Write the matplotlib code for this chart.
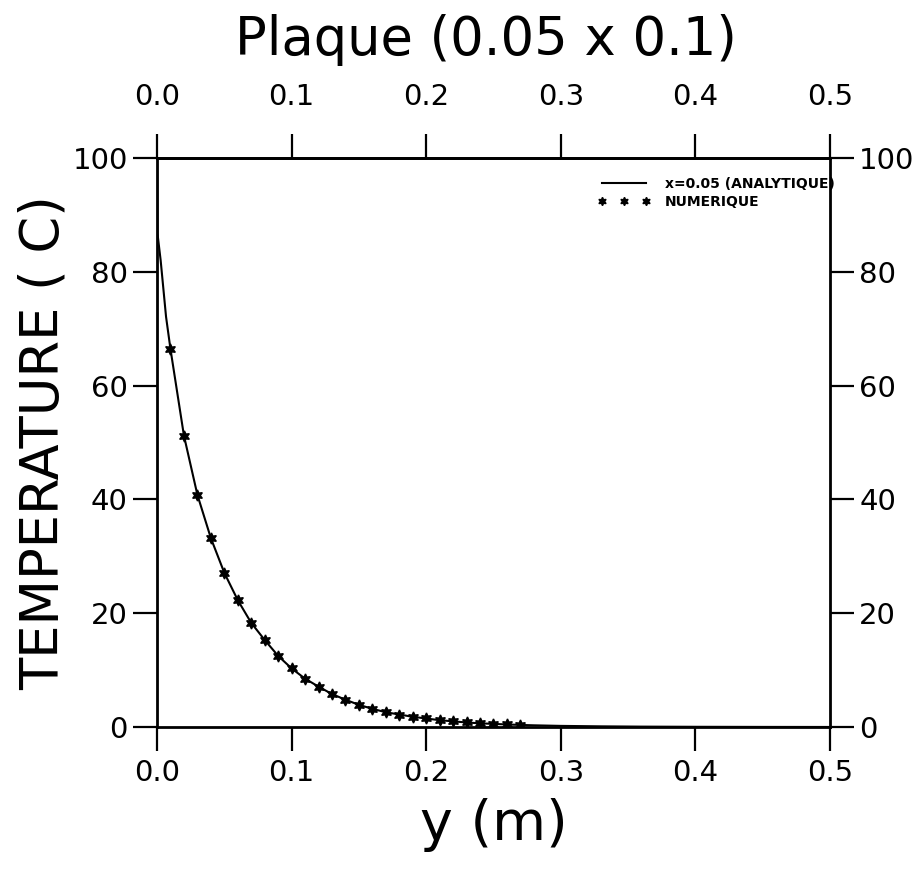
import matplotlib
matplotlib.use("Agg")
import matplotlib.pyplot as plt

# Analytic curve (x = 0.05)
y_line = [0.0, 0.0003, 0.0027, 0.0067, 0.01, 0.02, 0.03, 0.04, 0.05, 0.06, 0.07, 0.08,
          0.09, 0.10, 0.11, 0.12, 0.13, 0.14, 0.15, 0.16, 0.17, 0.18, 0.19, 0.20,
          0.21, 0.22, 0.23, 0.24, 0.25, 0.26, 0.27, 0.28, 0.30, 0.33, 0.36, 0.40,
          0.45, 0.50]
T_line = [100.0, 86.8, 82.0, 72.1, 66.4, 51.2, 40.8, 33.2, 27.1, 22.3, 18.3, 15.3,
          12.5, 10.3, 8.5, 7.1, 5.8, 4.8, 3.9, 3.2, 2.6, 2.2, 1.8, 1.5,
          1.2, 1.0, 0.8, 0.65, 0.55, 0.45, 0.37, 0.3, 0.2, 0.12, 0.07, 0.04,
          0.02, 0.01]

# Numerical solution
y_num = [0.01, 0.02, 0.03, 0.04, 0.05, 0.06, 0.07, 0.08, 0.09, 0.10, 0.11, 0.12,
         0.13, 0.14, 0.15, 0.16, 0.17, 0.18, 0.19, 0.20, 0.21, 0.22, 0.23, 0.24,
         0.25, 0.26, 0.27]
T_num = [66.4, 51.2, 40.8, 33.2, 27.1, 22.3, 18.3, 15.3, 12.5, 10.3, 8.5, 7.1,
         5.8, 4.8, 3.9, 3.2, 2.6, 2.2, 1.8, 1.5, 1.2, 1.0, 0.8, 0.65,
         0.55, 0.45, 0.37]

x_ticks = [0.0, 0.1, 0.2, 0.3, 0.4, 0.5]
x_ticklabels = ["0.0", "0.1", "0.2", "0.3", "0.4", "0.5"]
y_ticks = [0, 20, 40, 60, 80, 100]
y_ticklabels = ["0", "20", "40", "60", "80", "100"]

title = "Plaque (0.05 x 0.1)"
xlabel = "y (m)"
ylabel = "TEMPERATURE ( C)"
legend_labels = ["x=0.05 (ANALYTIQUE)", "NUMERIQUE"]

plt.rcParams['font.family'] = ['DejaVu Sans']

fig = plt.figure(figsize=(9.14, 8.85), dpi=100)
ax = fig.add_axes([0.1718, 0.1785, 0.7362, 0.643])

ax.plot(y_line, T_line, color='black', lw=1.5, label=legend_labels[0])
ax.plot(y_num, T_num, linestyle='none', marker=(6, 1, 0), markersize=8,
        color='black', label=legend_labels[1])

ax.set_xlim(0, 0.5)
ax.set_ylim(0, 100)

for s in ax.spines.values():
    s.set_linewidth(2)

ax.set_xticks(x_ticks)
ax.set_xticklabels(x_ticklabels)
ax.set_yticks(y_ticks)
ax.set_yticklabels(y_ticklabels)
ax.tick_params(axis='both', which='major', direction='out', length=17, width=1.6,
               labelsize=21, top=False, right=True, labeltop=False, labelright=True,
               pad=4)
ax.tick_params(axis='x', pad=6)

# top axis with its own label spacing
sec = ax.secondary_xaxis('top')
sec.set_xticks(x_ticks)
sec.set_xticklabels(x_ticklabels)
sec.tick_params(direction='out', length=17, width=1.6, labelsize=21, pad=17)
sec.spines['top'].set_linewidth(2)

ax.set_xlabel(xlabel, fontsize=40, labelpad=8)
ax.set_ylabel(ylabel, fontsize=38, labelpad=2)

fig.text(0.532, 1 - 40 / 885, title, ha='center', va='center', fontsize=38)

leg = ax.legend(loc='upper left', bbox_to_anchor=(0.655, 0.966), frameon=False,
                fontsize=10, handlelength=3.75, numpoints=3, markerscale=0.75,
                labelspacing=0.25, handletextpad=1.1, borderaxespad=0, borderpad=0)
for t in leg.get_texts():
    t.set_fontweight('bold')

fig.savefig("out.png", dpi=100)
